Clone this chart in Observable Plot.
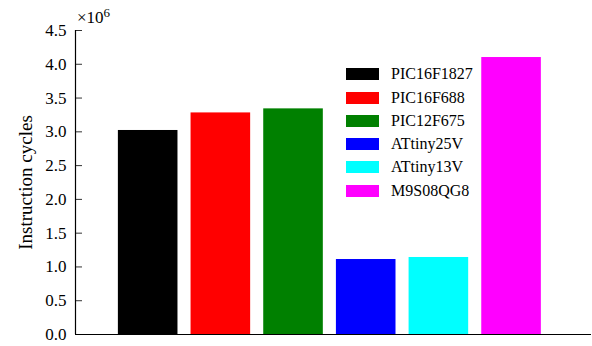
<!DOCTYPE html>
<html>
<head>
<meta charset="utf-8">
<script src="https://cdn.jsdelivr.net/npm/d3@7"></script>
<script src="https://cdn.jsdelivr.net/npm/@observablehq/plot@0.6"></script>
<style>
  html, body { margin: 0; padding: 0; background: #fff; }
  #wrap { position: relative; width: 592px; height: 346px; font-family: "Liberation Serif", serif; }
  #wrap svg text { font-family: "Liberation Serif", serif; }
  #legend { position: absolute; left: 346px; top: 62.6px; }
  .row { display: flex; align-items: center; height: 23.3px; }
  .sw { width: 33px; height: 12px; margin-right: 12px; flex: none; }
  .lab { font-family: "Liberation Serif", serif; font-size: 16px; color: #000; line-height: 16px; }
  #mult { position: absolute; left: 77px; top: 9px; font-family: "Liberation Serif", serif; font-size: 17px; line-height: 17px; color: #000; white-space: nowrap; }
  #mult .sup { font-size: 13px; position: relative; top: -6px; }
</style>
</head>
<body>
<div id="wrap"></div>
<script>
const chips = ["PIC16F1827", "PIC16F688", "PIC12F675", "ATtiny25V", "ATtiny13V", "M9S08QG8"];
const cycles = [3.02, 3.28, 3.34, 1.11, 1.14, 4.10]; // ×10^6
const colors = ["#000000", "#ff0000", "#008000", "#0000ff", "#00ffff", "#ff00ff"];
const yTicks = [0, 0.5, 1, 1.5, 2, 2.5, 3, 3.5, 4, 4.5];
const yLabel = "Instruction cycles";

const data = chips.map((c, i) => ({chip: c, pos: i + 1, value: cycles[i], color: colors[i]}));
const halfW = 0.41;

const W = 592, H = 346, mL = 75, mR = 1, mT = 30, mB = 12;
const xDomain = [0, 7.1];
const tickLen = 7 * (xDomain[1] - xDomain[0]) / (W - mL - mR); // inward ticks, in x units

const plot = Plot.plot({
  width: W,
  height: H,
  marginLeft: mL,
  marginRight: mR,
  marginTop: mT,
  marginBottom: mB,
  style: {fontFamily: "'Liberation Serif', serif", fontSize: "17px", background: "#fff"},
  x: {domain: xDomain, axis: null},
  y: {domain: [0, 4.5]},
  marks: [
    Plot.rectY(data, {x1: d => d.pos - halfW, x2: d => d.pos + halfW, y1: 0, y2: "value", fill: "color"}),
    Plot.axisY({ticks: yTicks, tickSize: 0, tickPadding: 9, tickFormat: d3.format(".1f"), label: null}),
    Plot.text([yLabel], {frameAnchor: "left", textAnchor: "middle", lineAnchor: "middle", rotate: -90, dx: -50, fontSize: 19, fill: "#000"}),
    Plot.ruleY(yTicks, {x1: xDomain[0], x2: xDomain[0] + tickLen, stroke: "#333", strokeWidth: 1}),
    Plot.ruleX([xDomain[0]], {y1: 0, y2: 4.5, stroke: "#000", strokeWidth: 1.2}),
    Plot.ruleY([0], {stroke: "#000", strokeWidth: 1.2})
  ]
});

const wrap = document.getElementById("wrap");
wrap.appendChild(plot);

const mult = document.createElement("div");
mult.id = "mult";
mult.innerHTML = "×10<span class=\"sup\">6</span>";
wrap.appendChild(mult);

const legend = document.createElement("div");
legend.id = "legend";
data.forEach(d => {
  const row = document.createElement("div");
  row.className = "row";
  const sw = document.createElement("div");
  sw.className = "sw";
  sw.style.background = d.color;
  const lab = document.createElement("span");
  lab.className = "lab";
  lab.textContent = d.chip;
  row.appendChild(sw);
  row.appendChild(lab);
  legend.appendChild(row);
});
wrap.appendChild(legend);
</script>
</body>
</html>
